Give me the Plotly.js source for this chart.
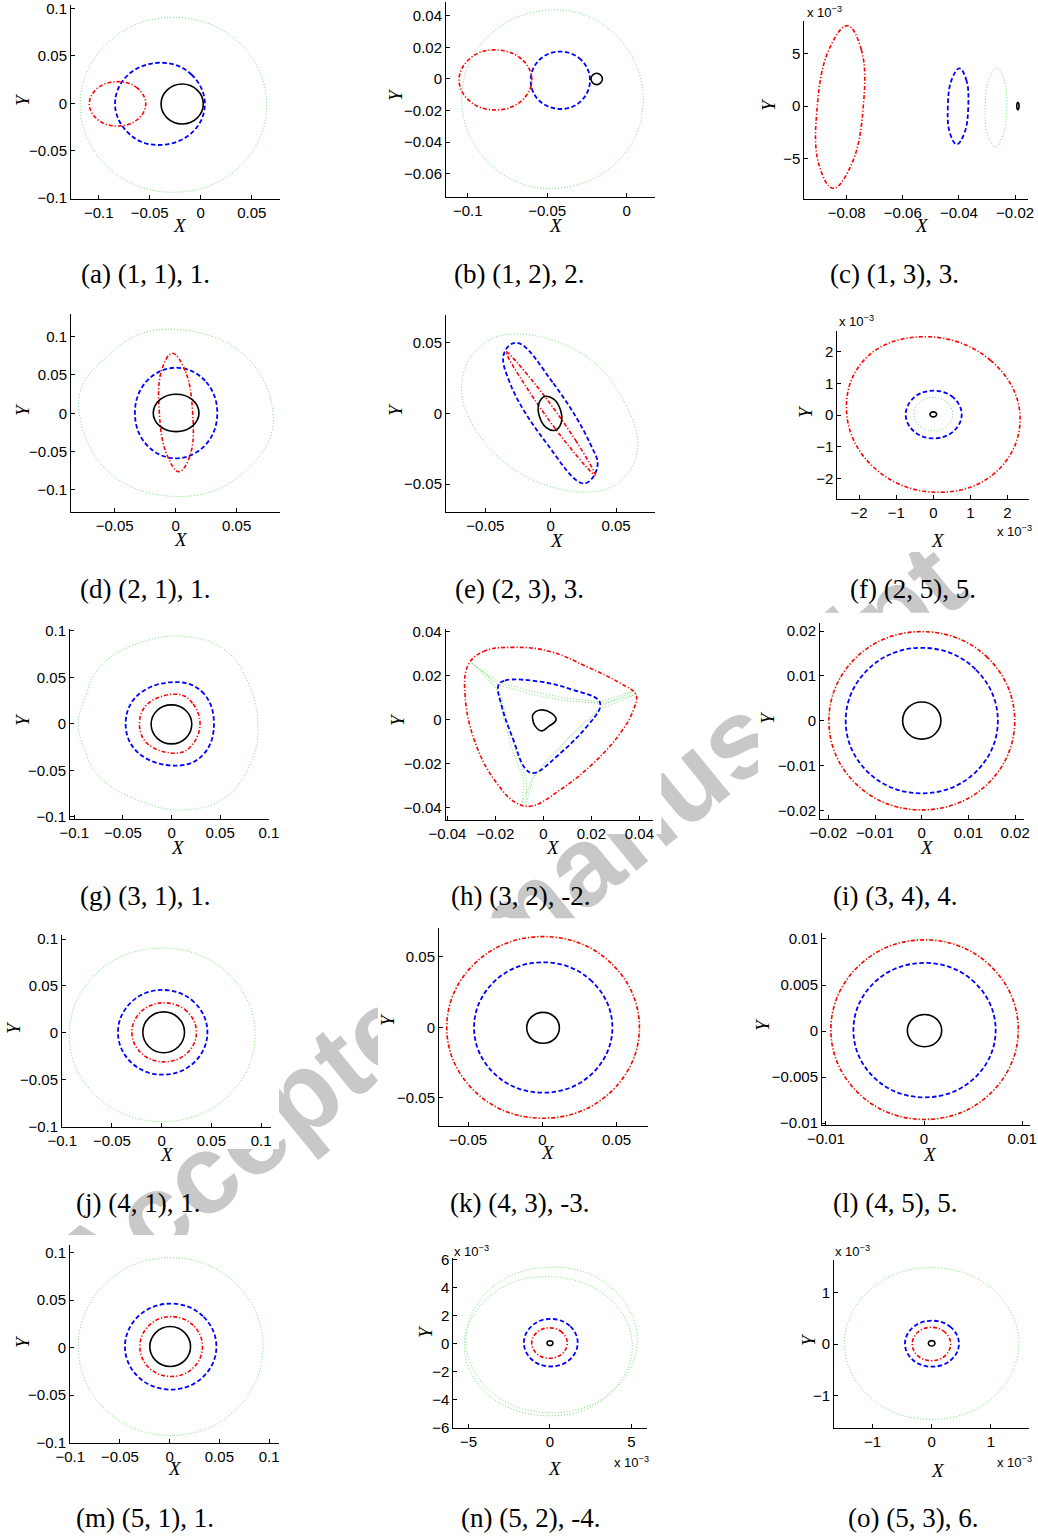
<!DOCTYPE html>
<html><head><meta charset="utf-8">
<script src="https://cdn.plot.ly/plotly-3.0.1.min.js"></script>
<style>html,body{margin:0;padding:0;background:#fff}#chart{width:1038px;height:1538px}</style>
</head><body><div id="chart"></div>
<script>
// ---------- data ----------
// (a)
const aGx=[0.0647,0.0379,-0.0268,-0.0915,-0.1183,-0.0915,-0.0268,0.0379,0.0647];
const aGy=[-0.0016,0.0637,0.0907,0.0637,-0.0016,-0.0669,-0.0939,-0.0669,-0.0016];
const aBx=[0.004,-0.0089,-0.038,-0.0711,-0.084,-0.0711,-0.043,-0.0089,0.004];
const aBy=[-0.0006,0.0301,0.0428,0.0301,-0.0006,-0.0313,-0.044,-0.0313,-0.0006];
const aRx=[-0.0539,-0.062,-0.0816,-0.1012,-0.1093,-0.1012,-0.0816,-0.062,-0.0539];
const aRy=[-0.0006,0.0159,0.0228,0.0159,-0.0006,-0.0171,-0.024,-0.0171,-0.0006];
const aKx=[0.0025,-0.0036,-0.0182,-0.0328,-0.0389,-0.0328,-0.0182,-0.0036,0.0025];
const aKy=[-0.0007,0.0142,0.0204,0.0142,-0.0007,-0.0156,-0.0218,-0.0156,-0.0007];
// (b)
const bGx=[0.0104,-0.0063,-0.044,-0.0871,-0.1038,-0.0871,-0.0493,-0.0063,0.0104];
const bGy=[-0.0128,0.0271,0.0437,0.0271,-0.0128,-0.0527,-0.0693,-0.0527,-0.0128];
const bBx=[-0.0231,-0.0286,-0.042,-0.055,-0.0604,-0.055,-0.0409,-0.0286,-0.0231];
const bBy=[-0.0009,0.012,0.0173,0.012,-0.0009,-0.0138,-0.019,-0.0138,-0.0009];
const bRx=[-0.0597,-0.0664,-0.0839,-0.0988,-0.1055,-0.0988,-0.0828,-0.0664,-0.0597];
const bRy=[-0.0006,0.0128,0.0184,0.0128,-0.0006,-0.014,-0.0196,-0.014,-0.0006];
const bKx=[-0.0153,-0.0164,-0.0189,-0.0214,-0.0225,-0.0214,-0.0189,-0.0164,-0.0153];
const bKy=[0,0.0025,0.0036,0.0025,0,-0.0025,-0.0036,-0.0025,0];
// (c)
const cRx=[-0.0798,-0.0748,-0.0741,-0.0783,-0.0848,-0.0899,-0.0905,-0.0863,-0.0798];
const cRy=[0.00765,0.00538,-0.0001,-0.00557,-0.00784,-0.00557,-0.0001,0.00538,0.00765];
const cBx=[-0.03986,-0.03743,-0.03668,-0.03807,-0.04078,-0.04321,-0.04396,-0.04257,-0.03986];
const cBy=[0.00359,0.00253,-0.00003,-0.00259,-0.00365,-0.00259,-0.00003,0.00253,0.00359];
const cGx=[-0.02652,-0.02389,-0.02298,-0.02435,-0.02713,-0.0298,-0.03071,-0.02934,-0.02652];
const cGy=[0.00359,0.0025,-0.00014,-0.00278,-0.00388,-0.00278,-0.00014,0.0025,0.00359];
const cKx=[-0.0186,-0.01872,-0.019,-0.01928,-0.0194,-0.01928,-0.019,-0.01872,-0.0186];
const cKy=[0,0.00025,0.00035,0.00025,0,-0.00025,-0.00035,-0.00025,0];
// (d)
const dGx=[0.080,0.0541,-0.0156,-0.058,-0.0793,-0.0539,0.0117,0.0595,0.080];
const dGy=[-0.0087,0.0791,0.1087,0.0718,0.0174,-0.0783,-0.108,-0.0718,-0.0087];
const dBx=[0.0341,0.0242,0.0003,-0.0236,-0.0334,-0.0236,0.0003,0.0242,0.0341];
const dBy=[0.0003,0.0422,0.0595,0.0422,0.0003,-0.0416,-0.0588,-0.0416,0.0003];
const dRx=[0.0139,0.0077,-0.0028,-0.0116,-0.0134,-0.0073,0.0027,0.012,0.0139];
const dRy=[0.001,0.0557,0.0783,0.0557,0.001,-0.0537,-0.0762,-0.0537,0.001];
const dKx=[0.0191,0.0136,0.0004,-0.0129,-0.0184,-0.0129,0.0004,0.0136,0.0191];
const dKy=[0.0004,0.0177,0.0248,0.0177,0.0004,-0.0169,-0.024,-0.0169,0.0004];
// (e)
const eGx=[-0.0286,0.0275,0.0594,0.0663,0.0555,0.0326,-0.0235,-0.063,-0.0673,-0.0541,-0.0286];
const eGy=[0.056,0.040,0.0023,-0.0259,-0.0459,-0.0553,-0.0423,-0.0024,0.0258,0.047,0.056];
const eBx=[-0.026,0.002,0.0301,0.0357,0.0255,-0.0031,-0.0311,-0.0357,-0.026];
const eBy=[0.0498,0.0212,-0.0212,-0.0377,-0.0494,-0.0212,0.0212,0.0423,0.0498];
const eRx=[0.0339,0.0197,-0.0144,-0.0342,-0.0197,0.0143,0.0339];
const eRy=[-0.0435,-0.020,0.0235,0.0435,0.020,-0.0236,-0.0435];
const eKx=[0.0035,0.008,0.0075,0.0023,-0.0046,-0.0091,-0.0086,-0.0034,0.0035];
const eKy=[-0.0119,-0.0068,0.0023,0.01,0.0119,0.0067,-0.0023,-0.0101,-0.0119];
// (f)
const fRx=[0.002337,0.00155,-0.00027,-0.001852,-0.002334,-0.00154,0.00018,0.001762,0.002337];
const fRy=[0,0.00172,0.002474,0.001754,0.00003,-0.001722,-0.002442,-0.001722,0];
const fBx=[0.000765,0.000544,0.0000105,-0.000523,-0.000744,-0.000523,0.0000105,0.000544,0.000765];
const fBy=[0.0000155,0.000548,0.000768,0.000548,0.0000155,-0.000517,-0.000737,-0.000517,0.0000155];
const fGx=[0.000522,0.000369,0.000001,-0.000367,-0.00052,-0.000367,0.000001,0.000369,0.000522];
const fGy=[0.0000265,0.000403,0.000559,0.000403,0.0000265,-0.00035,-0.000506,-0.00035,0.0000265];
const fKx=[0.00009,0.000064,0,-0.000064,-0.00009,-0.000064,0,0.000064,0.00009];
const fKy=[0.00002,0.000077,0.0001,0.000077,0.00002,-0.000037,-0.00006,-0.000037,0.00002];
// (g)
const gGx=[-0.0959,-0.0874,-0.0738,-0.0398,0.013,0.0555,0.0793,0.0888,0.0793,0.0555,0.013,-0.033,-0.0738,-0.0891,-0.0959];
const gGy=[0,0.0323,0.0609,0.0842,0.0939,0.0788,0.043,-0.0072,-0.0467,-0.0789,-0.0925,-0.0825,-0.0574,-0.0287,0];
const gBx=[0.0436,0.0335,0.0079,-0.034,-0.0472,-0.034,0.0079,0.0335,0.0436];
const gBy=[0,0.032,0.0447,0.0315,0,-0.0315,-0.0448,-0.032,0];
const gRx=[0.0293,0.0215,0.0079,-0.024,-0.033,-0.024,0.0079,0.0215,0.0293];
const gRy=[0,0.0222,0.0315,0.022,0,-0.022,-0.0312,-0.0222,0];
const gKx=[0.0208,0.0147,-0.0001,-0.0149,-0.021,-0.0149,-0.0001,0.0147,0.0208];
const gKy=[-0.0005,0.0143,0.0204,0.0143,-0.0005,-0.0153,-0.0215,-0.0153,-0.0005];
// (h)
const hRx=[-0.0313,-0.025,-0.0125,0.0028,0.0181,0.032,0.0386,0.0375,0.032,0.0208,0.007,-0.0048,-0.0111,-0.0194,-0.0278,-0.0326,-0.0313];
const hRy=[0.025,0.0311,0.033,0.0311,0.0242,0.0167,0.0114,0.0045,-0.0061,-0.0197,-0.0318,-0.0391,-0.0379,-0.0288,-0.0121,0.0106,0.025];
const hBx=[-0.0187,-0.016,-0.0014,0.0125,0.0229,0.0236,0.0181,0.007,-0.0042,-0.0076,-0.0125,-0.0173,-0.0187];
const hBy=[0.0159,0.0179,0.0174,0.0136,0.0091,0.0058,-0.003,-0.0152,-0.0242,-0.022,-0.0091,0.006,0.0159];
const hG1x=[-0.0305,-0.0243,-0.0183,-0.0042,0.0098,0.0236,0.0382,0.025,0.0139,0.0028,-0.0042,-0.0072,-0.0069,-0.0111,-0.0153,-0.018,-0.0236,-0.0305];
const hG1y=[0.0265,0.0215,0.017,0.0129,0.0098,0.0083,0.0133,0.0068,-0.0045,-0.0167,-0.0258,-0.0386,-0.0273,-0.0152,0,0.0121,0.0205,0.0265];
const hG2x=[-0.0299,-0.0183,-0.0042,0.0098,0.025,0.0392,0.0243,0.0125,0.0021,-0.0048,-0.009,-0.008,-0.0125,-0.0164,-0.0187,-0.0239,-0.0299];
const hG2y=[0.0258,0.0159,0.0114,0.0086,0.0076,0.0118,0.0053,-0.0061,-0.0182,-0.0273,-0.0386,-0.0273,-0.0152,0,0.0129,0.0194,0.0258];
const hKx=[-0.0044,-0.0014,0.0035,0.0053,0.0021,-0.0007,-0.0035,-0.0044,-0.0044];
const hKy=[0.0023,0.0045,0.003,0,-0.003,-0.005,-0.0027,0,0.0023];
// (i)
const iGx=[0.0201,0.0142,0.0001,-0.014,-0.0199,-0.014,0.0001,0.0142,0.0201];
const iGy=[0,0.0141,0.02,0.0141,0,-0.0141,-0.0199,-0.0141,0];
const iRx=[0.0199,0.0141,0,-0.0141,-0.0199,-0.0141,0,0.0141,0.0199];
const iRy=[0,0.0141,0.0199,0.0141,0,-0.0141,-0.0199,-0.0141,0];
const iBx=[0.0163,0.0115,0,-0.0115,-0.0163,-0.0115,0,0.0115,0.0163];
const iBy=[0,0.0115,0.0163,0.0115,0,-0.0115,-0.0162,-0.0115,0];
const iKx=[0.0041,0.0029,0,-0.0029,-0.0041,-0.0029,0,0.0029,0.0041];
const iKy=[0,0.003,0.0042,0.003,0,-0.0029,-0.0041,-0.0029,0];
// (j)
const jGx=[0.094,0.0666,0.0005,-0.0656,-0.093,-0.0656,0.0005,0.0666,0.094];
const jGy=[-0.0022,0.0633,0.0904,0.0633,-0.0022,-0.0677,-0.0947,-0.0677,-0.0022];
const jBx=[0.046,0.0328,0.001,-0.0308,-0.044,-0.0308,0.001,0.0328,0.046];
const jBy=[0.0005,0.0325,0.0457,0.0325,0.0005,-0.0315,-0.0447,-0.0315,0.0005];
const jRx=[0.035,0.0255,0.0025,-0.0205,-0.03,-0.0205,0.0025,0.0255,0.035];
const jRy=[0.0005,0.0228,0.032,0.0228,0.0005,-0.0218,-0.031,-0.0218,0.0005];
const jKx=[0.023,0.0168,0.002,-0.0128,-0.019,-0.0128,0.002,0.0168,0.023];
const jKy=[0.0005,0.0159,0.0223,0.0159,0.0005,-0.0149,-0.0213,-0.0149,0.0005];
// (k)
const kGx=[0.0657,0.0467,0.0008,-0.0451,-0.0641,-0.0451,0.0008,0.0467,0.0657];
const kGy=[0.0001,0.0456,0.0645,0.0456,0.0001,-0.0454,-0.0643,-0.0454,0.0001];
const kRx=[0.0654,0.0464,0.0005,-0.0454,-0.0644,-0.0454,0.0005,0.0464,0.0654];
const kRy=[-0.0001,0.0454,0.0643,0.0454,-0.0001,-0.0456,-0.0645,-0.0456,-0.0001];
const kBx=[0.0472,0.0335,0.0006,-0.0323,-0.046,-0.0323,0.0006,0.0335,0.0472];
const kBy=[-0.0002,0.0325,0.0461,0.0325,-0.0002,-0.0329,-0.0464,-0.0329,-0.0002];
const kKx=[0.0115,0.0083,0.0005,-0.0073,-0.0105,-0.0073,0.0005,0.0083,0.0115];
const kKy=[-0.0004,0.0074,0.0106,0.0074,-0.0004,-0.0082,-0.0113,-0.0082,-0.0004];
// (l)
const lGx=[0.00965,0.00685,0.0001,-0.00665,-0.00945,-0.00665,0.0001,0.00685,0.00965];
const lGy=[0.0002,0.00709,0.00995,0.00709,0.0002,-0.00669,-0.00955,-0.00669,0.0002];
const lRx=[0.0096,0.0068,0.00005,-0.0067,-0.0095,-0.0067,0.00005,0.0068,0.0096];
const lRy=[0.00015,0.00704,0.0099,0.00704,0.00015,-0.00674,-0.0096,-0.00674,0.00015];
const lBx=[0.0073,0.00518,0.00005,-0.00508,-0.0072,-0.00508,0.00005,0.00518,0.0073];
const lBy=[0.0001,0.00526,0.0074,0.00526,0.0001,-0.00506,-0.0072,-0.00506,0.0001];
const lKx=[0.0018,0.00129,0.00005,-0.00119,-0.0017,-0.00119,0.00005,0.00129,0.0018];
const lKy=[0.00005,0.00129,0.0018,0.00129,0.00005,-0.00119,-0.0017,-0.00119,0.00005];
// (m)
const mGx=[0.094,0.0668,0.001,-0.0648,-0.092,-0.0648,0.001,0.0668,0.094];
const mGy=[0.001,0.0672,0.0947,0.0672,0.001,-0.0652,-0.0926,-0.0652,0.001];
const mBx=[0.047,0.0335,0.001,-0.0315,-0.045,-0.0315,0.001,0.0335,0.047];
const mBy=[0.001,0.033,0.0463,0.033,0.001,-0.031,-0.0442,-0.031,0.001];
const mRx=[0.033,0.0238,0.0015,-0.0208,-0.03,-0.0208,0.0015,0.0238,0.033];
const mRy=[0.001,0.0233,0.0326,0.0233,0.001,-0.0213,-0.0305,-0.0213,0.001];
const mKx=[0.021,0.015,0.0005,-0.014,-0.02,-0.014,0.0005,0.015,0.021];
const mKy=[0.001,0.0158,0.0221,0.0158,0.001,-0.0138,-0.02,-0.0138,0.001];
// (n)
const nG1x=[0.00536,0.00382,0.0002,-0.00362,-0.00516,-0.00362,0.0001,0.00382,0.00536];
const nG1y=[0.00025,0.00393,0.00545,0.00393,0.00025,-0.00343,-0.00495,-0.00343,0.00025];
const nG2x=[0.00505,0.00354,-0.0004,-0.00374,-0.00525,-0.00374,0.0002,0.00354,0.00505];
const nG2y=[-0.0002,0.00331,0.00477,0.00331,-0.0002,-0.00371,-0.00517,-0.00371,-0.0002];
const nBx=[0.0017,0.001217,0.00005,-0.001117,-0.0016,-0.001117,0.00005,0.001217,0.0017];
const nBy=[0.00005,0.00125,0.00175,0.00125,0.00005,-0.00115,-0.00165,-0.00115,0.00005];
const nRx=[0.00106,0.000741,-0.00003,-0.000801,-0.00112,-0.000801,-0.00003,0.000741,0.00106];
const nRy=[0.000025,0.000792,0.00111,0.000792,0.000025,-0.000742,-0.00106,-0.000742,0.000025];
const nKx=[0.00018,0.000127,0,-0.000127,-0.00018,-0.000127,0,0.000127,0.00018];
const nKy=[0.00002,0.00014,0.00019,0.00014,0.00002,-0.0001,-0.00015,-0.0001,0.00002];
// (o)
const oGx=[0.001475,0.001043,0,-0.001043,-0.001476,-0.001043,0,0.001043,0.001475];
const oGy=[0.00001,0.001047,0.001476,0.001047,0.00001,-0.001027,-0.001457,-0.001027,0.00001];
const oBx=[0.000461,0.000327,0.000005,-0.000317,-0.000451,-0.000317,0.000005,0.000327,0.000461];
const oBy=[0.000006,0.000321,0.000451,0.000321,0.000006,-0.000309,-0.000439,-0.000309,0.000006];
const oRx=[0.000321,0.000226,-0.0000035,-0.000233,-0.000328,-0.000233,-0.0000035,0.000226,0.000321];
const oRy=[0,0.000228,0.000323,0.000228,0,-0.000228,-0.000323,-0.000228,0];
const oKx=[0.000056,0.00004,0,-0.00004,-0.000056,-0.00004,0,0.00004,0.000056];
const oKy=[0.000013,0.00005,0.000065,0.00005,0.000013,-0.000024,-0.000039,-0.000024,0.000013];

// tick values
const t01=[-0.1,-0.05,0,0.05,0.1];
const aXt=[-0.1,-0.05,0,0.05];
const bXt=[-0.1,-0.05,0];
const bYt=[-0.06,-0.04,-0.02,0,0.02,0.04];
const cXt=[-0.08,-0.06,-0.04,-0.02];
const cYt=[-0.005,0,0.005];
const t005=[-0.05,0,0.05];
const fT=[-0.002,-0.001,0,0.001,0.002];
const hT=[-0.04,-0.02,0,0.02,0.04];
const iT=[-0.02,-0.01,0,0.01,0.02];
const lXt=[-0.01,0,0.01];
const lYt=[-0.01,-0.005,0,0.005,0.01];
const nXt=[-0.005,0,0.005];
const nYt=[-0.006,-0.004,-0.002,0,0.002,0.004,0.006];
const oT=[-0.001,0,0.001];

const captions=['(a) (1, 1), 1.','(b) (1, 2), 2.','(c) (1, 3), 3.','(d) (2, 1), 1.','(e) (2, 3), 3.','(f) (2, 5), 5.',
 '(g) (3, 1), 1.','(h) (3, 2), -2.','(i) (3, 4), 4.','(j) (4, 1), 1.','(k) (4, 3), -3.','(l) (4, 5), 5.',
 '(m) (5, 1), 1.','(n) (5, 2), -4.','(o) (5, 3), 6.'];

// ---------- layout of panels (pixel boxes); HB = bottom of the panel picture area ----------
const P=[
 {L:71,R:280,T:5,B:199,HB:221,xr:[-0.1272,0.0777],yr:[-0.101,0.1037],xt:aXt,yt:t01,mx:1,my:1,X:[180,225],Y:[22,100],C:[145,274],E:[]},
 {L:446,R:655,T:2,B:196.7,HB:219,xr:[-0.1137,0.0178],yr:[-0.0745,0.0487],xt:bXt,yt:bYt,mx:1,my:1,X:[556,225],Y:[395,95],C:[519,274],E:[]},
 {L:804.3,R:1028,T:21,B:199.3,HB:221,xr:[-0.0951,-0.0154],yr:[-0.00889,0.0081],xt:cXt,yt:cYt,mx:1,my:1000,X:[922,225],Y:[768,105],C:[894,274],E:[[805,12]]},
 {L:71,R:280,T:314,B:511.7,HB:534,xr:[-0.0858,0.0855],yr:[-0.1285,0.1296],xt:t005,yt:t01,mx:1,my:1,X:[181,539],Y:[22,410],C:[145,589],E:[]},
 {L:446,R:655,T:315,B:511.7,HB:534,xr:[-0.0801,0.0798],yr:[-0.0694,0.0694],xt:t005,yt:t005,mx:1,my:1,X:[557,540],Y:[395,410],C:[519,589],E:[]},
 {L:837.3,R:1029.3,T:331,B:499.3,HB:552,xr:[-0.002588,0.002588],yr:[-0.002663,0.002654],xt:fT,yt:fT,mx:1000,my:1000,X:[938,540],Y:[805,412],C:[913,589],E:[[837,321],[995,531]]},
 {L:70,R:269.3,T:629.3,B:819.3,HB:841,xr:[-0.1044,0.1005],yr:[-0.1025,0.1015],xt:t01,yt:t01,mx:1,my:1,X:[178,847],Y:[22,720],C:[145,896],E:[]},
 {L:445.7,R:653.3,T:629.3,B:820,HB:834,xr:[-0.0407,0.0458],yr:[-0.0455,0.0412],xt:hT,yt:hT,mx:1,my:1,X:[553,847],Y:[397,720],C:[520,896],E:[]},
 {L:820,R:1024,T:622.7,B:819.3,HB:841,xr:[-0.0218,0.0219],yr:[-0.022,0.0219],xt:iT,yt:iT,mx:1,my:1,X:[927,847],Y:[768,718],C:[895,896],E:[]},
 {L:62,R:271,T:935,B:1127,HB:1149,xr:[-0.1003,0.11],yr:[-0.1005,0.1043],xt:t01,yt:t01,mx:1,my:1,X:[167,1154],Y:[13,1028],C:[138,1203],E:[]},
 {L:439,R:647.7,T:928.3,B:1126,HB:1148,xr:[-0.0696,0.071],yr:[-0.07,0.0702],xt:t005,yt:t005,mx:1,my:1,X:[548,1152],Y:[388,1020],C:[519,1203],E:[]},
 {L:822,R:1030,T:933,B:1125,HB:1147,xr:[-0.0104,0.0108],yr:[-0.0102,0.01065],xt:lXt,yt:lYt,mx:1,my:1,X:[930,1154],Y:[762,1025],C:[895,1203],E:[]},
 {L:70,R:279,T:1245,B:1443,HB:1465,xr:[-0.1003,0.11],yr:[-0.1005,0.108],xt:t01,yt:t01,mx:1,my:1,X:[175,1468],Y:[22,1342],C:[145,1518],E:[]},
 {L:453.3,R:647.3,T:1258.3,B:1427.7,HB:1450,xr:[-0.00593,0.00597],yr:[-0.00602,0.00608],xt:nXt,yt:nYt,mx:1000,my:1000,X:[555,1468],Y:[425,1332],C:[530,1518],E:[[452,1251],[612,1462]]},
 {L:834,R:1029.3,T:1260,B:1428.3,HB:1450,xr:[-0.00165,0.00165],yr:[-0.00163,0.001625],xt:oT,yt:oT,mx:1000,my:1000,X:[938,1470],Y:[808,1340],C:[913,1518],E:[[833,1251],[995,1462]]}
];

const curves=[
 [1,aGx,aGy,'G'],[1,aBx,aBy,'B'],[1,aRx,aRy,'R'],[1,aKx,aKy,'K'],
 [2,bGx,bGy,'G'],[2,bBx,bBy,'B'],[2,bRx,bRy,'R'],[2,bKx,bKy,'K'],
 [3,cGx,cGy,'G'],[3,cBx,cBy,'B'],[3,cRx,cRy,'R'],[3,cKx,cKy,'K'],
 [4,dGx,dGy,'G'],[4,dBx,dBy,'B'],[4,dRx,dRy,'R'],[4,dKx,dKy,'K'],
 [5,eGx,eGy,'G'],[5,eBx,eBy,'B'],[5,eRx,eRy,'R'],[5,eKx,eKy,'K'],
 [6,fGx,fGy,'G'],[6,fBx,fBy,'B'],[6,fRx,fRy,'R'],[6,fKx,fKy,'K'],
 [7,gGx,gGy,'G'],[7,gBx,gBy,'B'],[7,gRx,gRy,'R'],[7,gKx,gKy,'K'],
 [8,hG1x,hG1y,'G','linear'],[8,hG2x,hG2y,'G','linear'],[8,hBx,hBy,'B'],[8,hRx,hRy,'R'],[8,hKx,hKy,'K'],
 [9,iGx,iGy,'G'],[9,iBx,iBy,'B'],[9,iRx,iRy,'R'],[9,iKx,iKy,'K'],
 [10,jGx,jGy,'G'],[10,jBx,jBy,'B'],[10,jRx,jRy,'R'],[10,jKx,jKy,'K'],
 [11,kGx,kGy,'G'],[11,kBx,kBy,'B'],[11,kRx,kRy,'R'],[11,kKx,kKy,'K'],
 [12,lGx,lGy,'G'],[12,lBx,lBy,'B'],[12,lRx,lRy,'R'],[12,lKx,lKy,'K'],
 [13,mGx,mGy,'G'],[13,mBx,mBy,'B'],[13,mRx,mRy,'R'],[13,mKx,mKy,'K'],
 [14,nG1x,nG1y,'G'],[14,nG2x,nG2y,'G'],[14,nBx,nBy,'B'],[14,nRx,nRy,'R'],[14,nKx,nKy,'K'],
 [15,oGx,oGy,'G'],[15,oBx,oBy,'B'],[15,oRx,oRy,'R'],[15,oKx,oKy,'K']
];

const STY={
 G:{color:'rgb(120,220,120)',width:1,dash:'1px,2px'},
 B:{color:'#0000ff',width:1.8,dash:'4.5px,2.5px'},
 R:{color:'#ff0000',width:1.6,dash:'4px,2px,1.2px,2px'},
 K:{color:'#000000',width:1.6,dash:'solid'}
};

const W=1038,H=1538;
const sfx=n=>n===1?'':String(n);
const fmt=(v,m)=>{const s=String(Math.round(v*m*1e6)/1e6);return s.replace('-','\u2212');};

const data=curves.map(c=>({
 type:'scatter',mode:'lines',x:c[1],y:c[2],xaxis:'x'+sfx(c[0]),yaxis:'y'+sfx(c[0]),
 line:Object.assign({shape:c[4]||'spline',smoothing:1.15,simplify:false},STY[c[3]]),
 hoverinfo:'skip',showlegend:false
}));

const TF={family:'Liberation Sans, Arial, sans-serif',size:15,color:'#000'};
const layout={width:W,height:H,margin:{l:0,r:0,t:0,b:0},paper_bgcolor:'#fff',plot_bgcolor:'rgba(0,0,0,0)',
 showlegend:false,shapes:[],annotations:[]};

// watermark (below the panels)
layout.shapes.push({type:'line',xref:'paper',yref:'paper',layer:'below',
 x0:112.5/W,y0:1-1234/H,x1:887.5/W,y1:1-602/H,line:{color:'rgba(0,0,0,0)',width:1},
 label:{text:'<b>Accepted manuscript</b>',textposition:'middle',yanchor:'middle',textangle:'auto',
  font:{family:'Liberation Sans, Arial, sans-serif',size:112,color:'rgb(200,200,200)'}}});

P.forEach((p,i)=>{
 const n=i+1,s=sfx(n);
 const base={showline:true,linecolor:'#000',linewidth:1,ticks:'inside',ticklen:4,tickwidth:1,tickcolor:'#000',
  showgrid:false,zeroline:false,tickfont:TF,fixedrange:true,tickmode:'array',ticklabeloverflow:'allow'};
 layout['xaxis'+s]=Object.assign({},base,{domain:[p.L/W,p.R/W],range:p.xr,anchor:'y'+s,
  tickvals:p.xt,ticktext:p.xt.map(v=>fmt(v,p.mx))});
 layout['yaxis'+s]=Object.assign({},base,{domain:[1-p.B/H,1-p.T/H],range:p.yr,anchor:'x'+s,
  tickvals:p.yt,ticktext:p.yt.map(v=>fmt(v,p.my))});
 // panel picture area hides the watermark
 layout.shapes.push({type:'rect',xref:'paper',yref:'paper',layer:'below',
  x0:(p.Y[0]-10)/W,x1:(p.R+8)/W,y0:1-p.HB/H,y1:1-(p.T-10)/H,fillcolor:'#fff',line:{width:0}});
 layout.annotations.push({xref:'paper',yref:'paper',x:p.X[0]/W,y:1-p.X[1]/H,xanchor:'center',yanchor:'middle',
  text:'<i>X</i>',showarrow:false,font:{family:'Liberation Serif, Times New Roman, serif',size:19,color:'#000'}});
 layout.annotations.push({xref:'paper',yref:'paper',x:p.Y[0]/W,y:1-p.Y[1]/H,xanchor:'center',yanchor:'middle',
  text:'<i>Y</i>',textangle:-90,showarrow:false,font:{family:'Liberation Serif, Times New Roman, serif',size:19,color:'#000'}});
 layout.annotations.push({xref:'paper',yref:'paper',x:p.C[0]/W,y:1-p.C[1]/H,xanchor:'center',yanchor:'middle',
  text:captions[i],showarrow:false,font:{family:'Liberation Serif, Times New Roman, serif',size:27,color:'#000'}});
 p.E.forEach(e=>layout.annotations.push({xref:'paper',yref:'paper',x:e[0]/W,y:1-e[1]/H,xanchor:'left',yanchor:'middle',
  text:'x 10<sup>\u22123</sup>',showarrow:false,font:{family:'Liberation Sans, Arial, sans-serif',size:13,color:'#000'}}));
});

Plotly.newPlot('chart',data,layout,{staticPlot:true,displayModeBar:false});
</script></body></html>
